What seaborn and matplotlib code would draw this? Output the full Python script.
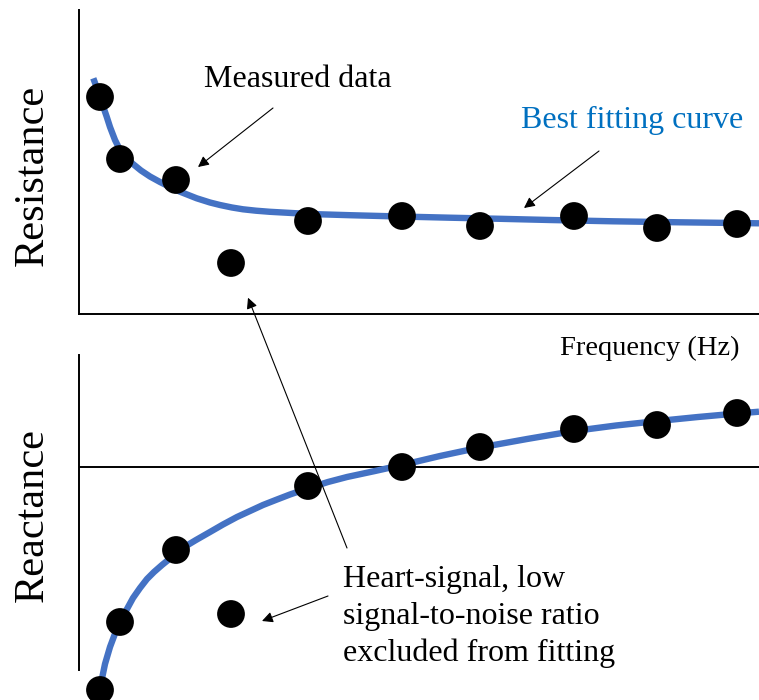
import matplotlib
matplotlib.use("Agg")
import matplotlib.pyplot as plt
import seaborn as sns
import pandas as pd

sns.set_style("white")
plt.rcParams["font.family"] = ["Liberation Serif", "DejaVu Serif"]
plt.rcParams["text.color"] = "black"

# Measured frequencies (arbitrary units along the frequency axis)
freq = [2.1, 4.1, 9.7, 15.2, 22.9, 32.3, 40.1, 49.5, 57.8, 65.8]
resistance = [21.7, 15.5, 13.4, 5.1, 9.3, 9.8, 8.8, 9.8, 8.6, 9.0]
reactance = [-22.3, -15.5, -8.3, -14.7, -1.9, 0.0, 2.0, 3.8, 4.2, 5.4]

# Fitted resistance curve
fit_r_freq = [1.43, 1.75, 2.1, 2.4, 2.77, 3.1, 3.6, 4.1, 4.7, 5.4, 6.2, 7.1,
              8.1, 9.1, 10.1, 11.77, 13.1, 14.1, 15.3, 16.4, 17.7, 19.1, 21.8,
              24.1, 27.1, 32.1, 37.1, 42.1, 47.1, 53.4, 60.1, 68.0]
fit_r = [23.57, 22.7, 21.8, 20.8, 19.73, 18.7, 17.4, 16.4, 15.65, 15.0, 14.35,
         13.75, 13.2, 12.7, 12.23, 11.57, 11.15, 10.9, 10.65, 10.47, 10.33,
         10.22, 10.07, 9.97, 9.88, 9.75, 9.63, 9.52, 9.4, 9.27, 9.17, 9.07]

# Fitted reactance curve
fit_x_freq = [1.8, 2.05, 2.27, 2.6, 3.1, 3.7, 4.2, 4.8, 5.4, 6.1, 6.8, 7.5,
              8.3, 9.1, 9.9, 10.7, 11.7, 13.1, 14.4, 15.8, 17.1, 18.4, 19.8,
              21.1, 23.0, 24.9, 26.8, 29.6, 32.3, 36.1, 40.1, 44.8, 49.5, 53.7,
              57.9, 61.9, 65.8, 68.0]
fit_x = [-23.3, -22.3, -21.3, -19.7, -18.0, -16.4, -15.3, -14.2, -13.1, -12.1,
         -11.2, -10.5, -9.8, -9.15, -8.5, -7.9, -7.3, -6.5, -5.75, -5.0, -4.4,
         -3.8, -3.25, -2.75, -2.1, -1.5, -1.0, -0.4, 0.2, 1.1, 1.95, 2.8, 3.6,
         4.15, 4.6, 5.0, 5.35, 5.53]

meas = pd.DataFrame({"freq": freq, "R": resistance, "X": reactance})
fit_r_df = pd.DataFrame({"freq": fit_r_freq, "R": fit_r})
fit_x_df = pd.DataFrame({"freq": fit_x_freq, "X": fit_x})

CURVE = "#4472C4"
LABEL_BLUE = "#0070C0"

fig = plt.figure(figsize=(7.59, 7.0), dpi=100)
ax_r = fig.add_axes([79 / 759, 1 - 314 / 700, 680 / 759, 304 / 700])
ax_x = fig.add_axes([79 / 759, 1 - 670 / 700, 680 / 759, 315 / 700])

for ax in (ax_r, ax_x):
    ax.set_xlim(0, 68)
    ax.patch.set_alpha(0)
    for s in ax.spines.values():
        s.set_color("black")
        s.set_linewidth(1.4)

ax_r.set_ylim(0, 30.4)
ax_x.set_ylim(-20.3, 11.2)
ax_r.spines["top"].set_visible(False)
ax_r.spines["right"].set_visible(False)
for side in ("top", "right", "bottom"):
    ax_x.spines[side].set_visible(False)
ax_x.axhline(0, color="black", lw=1.4, zorder=1)

line_kw = dict(color=CURVE, lw=4.6, sort=False, clip_on=False, zorder=2,
               solid_joinstyle="round", solid_capstyle="butt")
dot_kw = dict(color="black", s=400, edgecolor="none", clip_on=False, zorder=3)

# Resistance panel
sns.lineplot(data=fit_r_df, x="freq", y="R", ax=ax_r, **line_kw)
sns.scatterplot(data=meas, x="freq", y="R", ax=ax_r, **dot_kw)

# Reactance panel
sns.lineplot(data=fit_x_df, x="freq", y="X", ax=ax_x, **line_kw)
sns.scatterplot(data=meas, x="freq", y="X", ax=ax_x, **dot_kw)

for ax in (ax_r, ax_x):
    ax.set_xlabel("")
    ax.set_ylabel("")
    ax.set_xticks([])
    ax.set_yticks([])

arrow = dict(arrowstyle="-|>", lw=0.8, color="black", mutation_scale=16,
             shrinkA=0, shrinkB=0)

ax_r.text(12.5, 22.67, "Measured data", fontsize=23, ha="left", va="baseline")
ax_r.annotate("", xy=(11.9, 14.7), xytext=(19.4, 20.6), arrowprops=arrow)

ax_r.text(44.17, 18.6, "Best fitting curve", fontsize=23, color=LABEL_BLUE,
          ha="left", va="baseline")
ax_r.annotate("", xy=(44.5, 10.6), xytext=(52.0, 16.3), arrowprops=arrow)

ax_r.text(66.1, -4.1, "Frequency (Hz)", fontsize=20.5, ha="right", va="baseline")

# baseline of the last line of the note
ax_x.text(26.43, -19.4, "Heart-signal, low\nsignal-to-noise ratio\nexcluded from fitting",
          fontsize=23, ha="left", va="baseline", linespacing=1.35)
ax_x.annotate("", xy=(16.9, 1.63), xycoords=ax_r.transData,
              xytext=(26.8, -8.1), textcoords=ax_x.transData, arrowprops=arrow)
ax_x.annotate("", xy=(18.3, -15.4), xytext=(24.9, -12.9), arrowprops=arrow)

fig.text(43 / 759, 1 - 175.5 / 700, "Resistance", fontsize=30.5, rotation=90,
         rotation_mode="anchor", ha="center", va="baseline")
fig.text(42.7 / 759, 1 - 515 / 700, "Reactance", fontsize=30.5, rotation=90,
         rotation_mode="anchor", ha="center", va="baseline")

fig.savefig("out.png", dpi=100)
